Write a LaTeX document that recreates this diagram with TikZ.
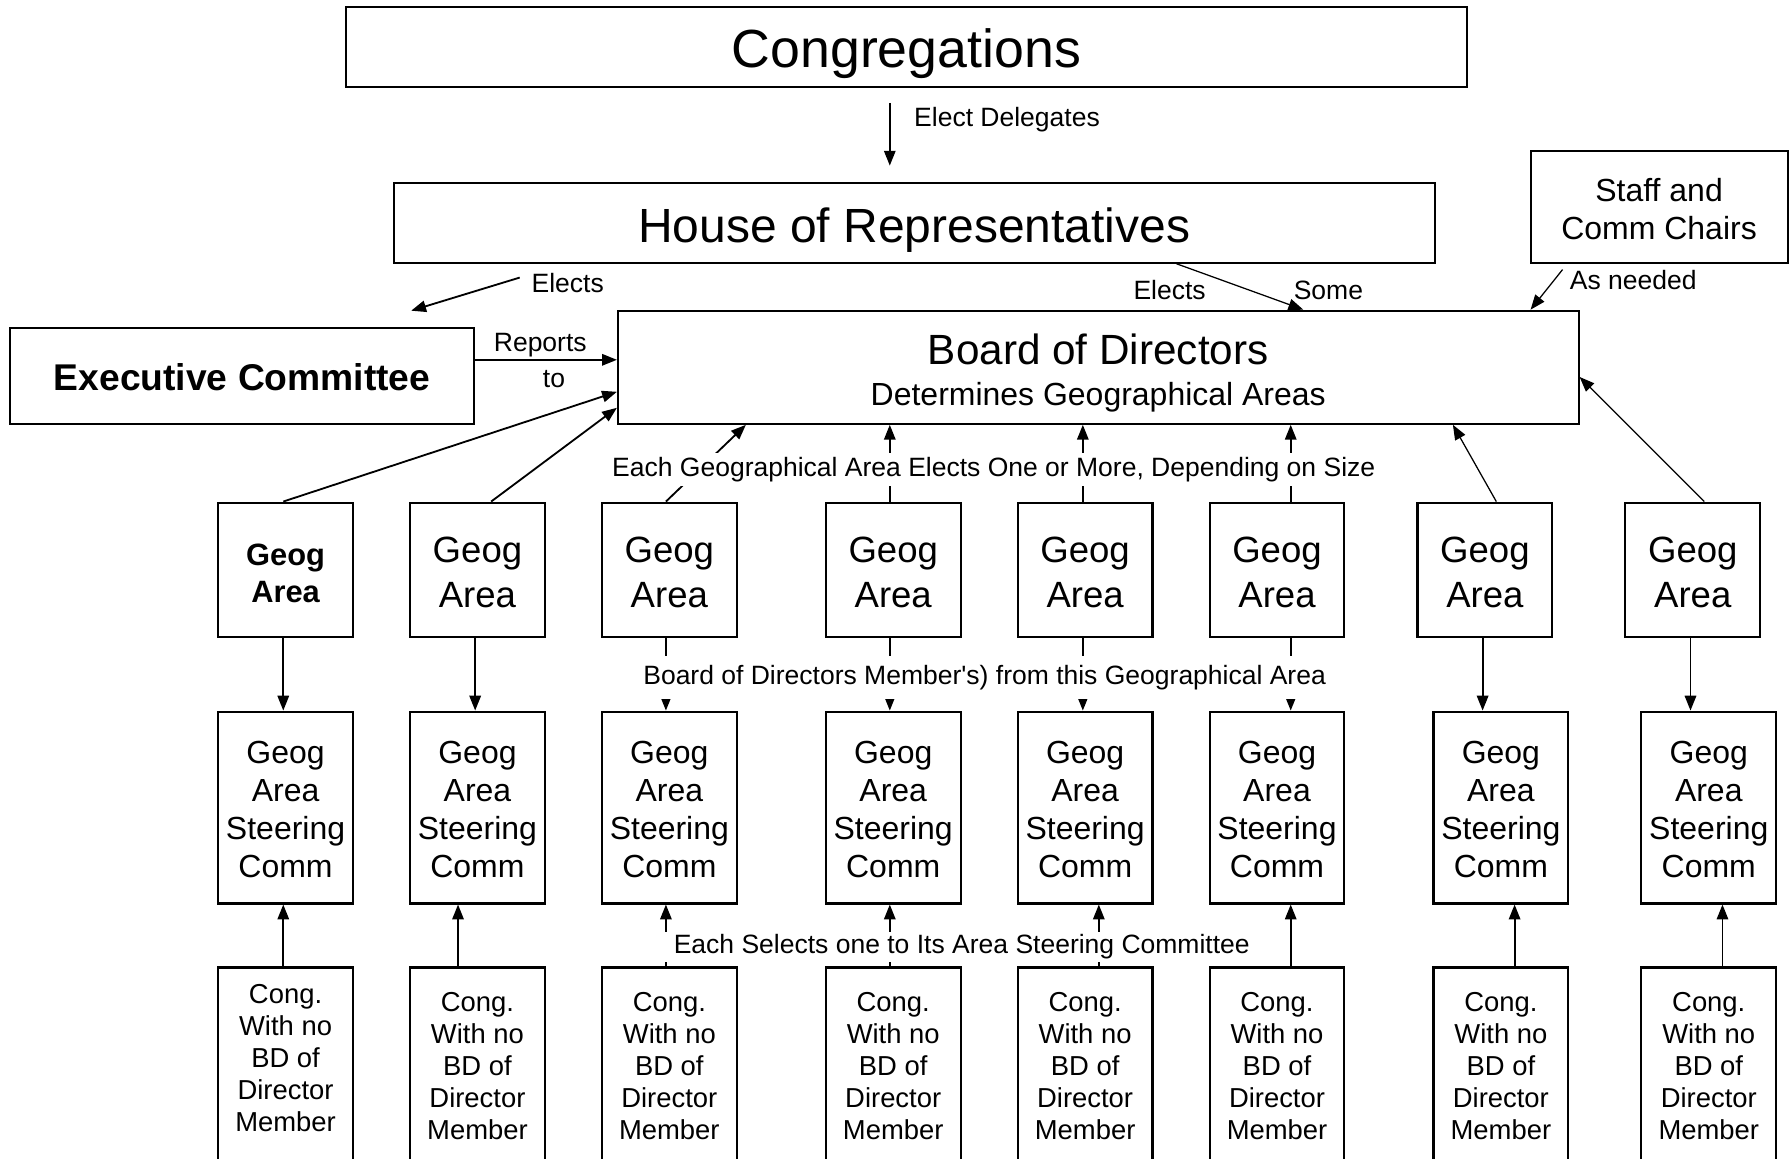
\documentclass[tikz,border=0pt]{standalone}
\usepackage{fontspec}
\setmainfont{Liberation Sans}
\usetikzlibrary{arrows.meta,calc}
\begin{document}
\begin{tikzpicture}[x=0.5pt,y=-0.5pt,
  box/.style={draw,line width=0.9pt,rectangle,inner sep=0pt},
  txt/.style={align=center,inner sep=0pt},
  conn/.style={line width=0.8pt,-{Triangle[length=6.5pt,width=5pt]}},
  thinconn/.style={line width=0.55pt,-{Triangle[length=6.5pt,width=5pt]}},
  lbl/.style={font=\fontsize{11.6pt}{13.8pt}\selectfont,inner sep=0pt},
  wlbl/.style={lbl,fill=white},
  geogbox/.style={box,minimum width=59pt,minimum height=59pt},
  geogtxt/.style={txt,font=\fontsize{16pt}{19.5pt}\selectfont},
  steerbox/.style={box,minimum width=59pt,minimum height=84pt},
  steertxt/.style={txt,font=\fontsize{14pt}{16.65pt}\selectfont},
  congbox/.style={box,minimum width=59pt,minimum height=85pt},
  congtxt/.style={txt,font=\fontsize{12pt}{14pt}\selectfont}
]
\useasboundingbox (0,0) rectangle (1568,1014);
\clip (0,0) rectangle (1568,1014);
\fill[white] (0,0) rectangle (1568,1014);

% main boxes
\node[box,minimum width=490.5pt,minimum height=35pt] (cong) at (793.5,41) {};
\node[txt,font=\fontsize{23.5pt}{28pt}\selectfont] (congT) at (793.5,47) {Congregations};
\node[box,minimum width=455.5pt,minimum height=35pt] (house) at (800.5,195) {};
\node[txt,font=\fontsize{21pt}{25pt}\selectfont] (houseT) at (800.5,201) {House of Representatives};
\node[box,minimum width=112.5pt,minimum height=49pt] (staff) at (1452.5,181) {};
\node[txt,font=\fontsize{14pt}{17pt}\selectfont] (staffT) at (1452.5,183) {Staff and\\Comm Chairs};
\node[box,minimum width=203pt,minimum height=42pt] (exec) at (212,329) {};
\node[txt,font=\bfseries\fontsize{16.3pt}{19pt}\selectfont] (execT) at (212,330) {Executive Committee};
\node[box,minimum width=420.5pt,minimum height=49.5pt] (board) at (961.5,321.5) {};
\node[txt,anchor=base,font=\fontsize{18.5pt}{22pt}\selectfont] (boardT1) at (961.5,319) {Board of Directors};
\node[txt,anchor=base,font=\fontsize{14pt}{17pt}\selectfont] (boardT2) at (961.5,355) {Determines Geographical Areas};

% geog area row
\foreach \x/\n in {250/1,418/2,586/3,782/4,950/5,1118/6,1300/7,1482/8}
  \node[geogbox] (g\n) at (\x,499) {};
\node[geogtxt,font=\bfseries\fontsize{13.5pt}{16.5pt}\selectfont] (gt1) at (250,502) {Geog\\Area};
\foreach \x/\n in {418/2,586/3,782/4,950/5,1118/6,1300/7,1482/8}
  \node[geogtxt] (gt\n) at (\x,501) {Geog\\Area};

% steering row
\foreach \x/\n in {250/1,418/2,586/3,782/4,950/5,1118/6,1314/7,1496/8}
  \node[steerbox] (s\n) at (\x,707) {};
\foreach \x/\n in {250/1,418/2,586/3,782/4,950/5,1118/6,1314/7,1496/8}
  \node[steertxt] (st\n) at (\x,708.5) {Geog\\Area\\Steering\\Comm};

% congregation row
\foreach \x/\n in {250/1,418/2,586/3,782/4,950/5,1118/6,1314/7,1496/8}
  \node[congbox] (c\n) at (\x,932) {};
\node[congtxt] (ct1) at (250,926.5) {Cong.\\With no\\BD of\\Director\\Member};
\foreach \x/\n in {418/2,586/3,782/4,950/5,1118/6,1314/7,1496/8}
  \node[congtxt] (ct\n) at (\x,933) {Cong.\\With no\\BD of\\Director\\Member};

% top connectors
\coordinate (ed1) at (779,90);
\coordinate (ed2) at (779,145);
\draw[conn] (ed1) -- (ed2);
\node[lbl,anchor=west] (edl) at (800,105) {Elect Delegates};

\coordinate (el1) at (455,243);
\coordinate (el2) at (360,272);
\draw[conn] (el1) -- (el2);
\node[lbl,anchor=west] (ell) at (465,248) {Elects};

\draw[thinconn] ([xshift=114.75pt]house.south) -- ([xshift=89.75pt]board.north);
\node[lbl] (esl1) at (1024,254) {Elects};
\node[lbl] (esl2) at (1163,254) {Some};

\coordinate (an1) at (1368,236);
\draw[thinconn] (an1) -- ([xshift=189.25pt]board.north);
\node[lbl,anchor=west] (anl) at (1374,245) {As needed};

\draw[conn] ([yshift=7pt]exec.east) -- ([yshift=7pt]exec.east -| board.west);
\node[lbl] (rl1) at (473,302) {Reports};
\node[lbl] (rl2) at (485,332) {to};

% geog -> board
\draw[conn] ([xshift=-1pt]g1.north) -- ([yshift=-10.75pt]board.west);
\draw[conn] ([xshift=6pt]g2.north) -- ([yshift=-17.75pt]board.west);
\draw[conn] ([xshift=-1.5pt]g3.north) -- ([xshift=-154.25pt]board.south);
\draw[conn] ([xshift=-1.5pt]g4.north) -- ([xshift=-1.5pt]g4.north |- board.south);
\draw[conn] ([xshift=-1pt]g5.north) -- ([xshift=-1pt]g5.north |- board.south);
\draw[conn] ([xshift=6pt]g6.north) -- ([xshift=6pt]g6.north |- board.south);
\draw[thinconn] ([xshift=5pt]g7.north) -- ([xshift=155.25pt]board.south);
\draw[thinconn] ([xshift=5pt]g8.north) -- ([yshift=-4.25pt]board.east);

% geog -> steering
\foreach \n/\s in {1/-1pt,2/-1pt,3/-1.5pt,4/-1.5pt,5/-1pt,6/6pt,7/-1pt,8/-1pt}
  \draw[conn] ([xshift=\s]g\n.south) -- ([xshift=\s]g\n.south |- s\n.north);

% cong -> steering
\foreach \n/\s in {1/-1pt,2/-8.5pt,3/-1.5pt,4/-1.5pt,5/6pt,6/6pt,7/6pt,8/6pt}
  \draw[conn] ([xshift=\s]c\n.north) -- ([xshift=\s]c\n.north |- s\n.south);

% labels over lines
\node[wlbl,inner xsep=1pt,inner ysep=2pt] (lab1) at (870,411) {Each Geographical Area Elects One or More, Depending on Size};
\node[wlbl,inner xsep=1pt,inner ysep=4pt] (lab2) at (862,593) {Board of Directors Member\textquotesingle s) from this Geographical Area};
\node[wlbl,inner xsep=4pt,inner ysep=1pt] (lab3) at (842,829) {Each Selects one to Its Area Steering Committee};
\end{tikzpicture}
\end{document}
